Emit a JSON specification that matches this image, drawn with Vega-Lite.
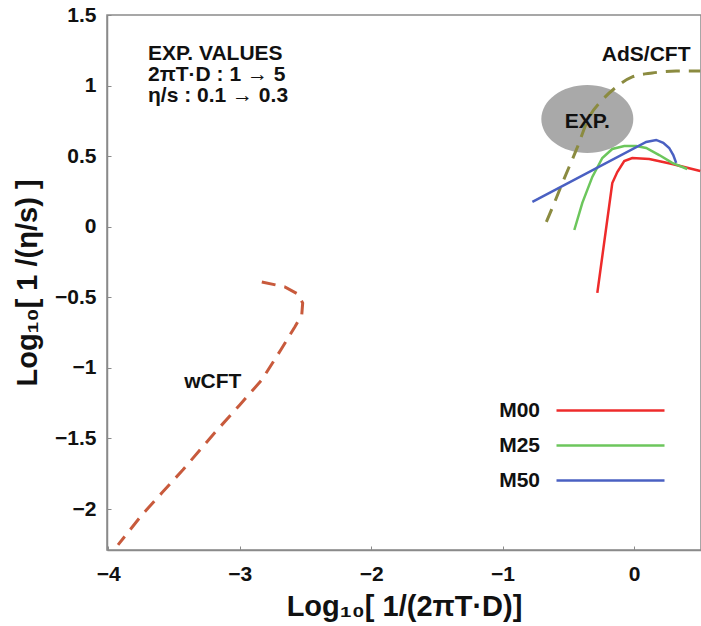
{
  "$schema": "https://vega.github.io/schema/vega-lite/v6.json",
  "width": 594,
  "height": 535,
  "autosize": {"type": "none"},
  "padding": {"left": 107, "top": 15, "right": 0, "bottom": 76},
  "background": "white",
  "config": {
    "font": "Liberation Sans",
    "view": {"stroke": "#8a8a8a", "strokeWidth": 1.5},
    "axis": {
      "domainColor": "#8a8a8a",
      "domainWidth": 1.5,
      "tickColor": "#8a8a8a",
      "tickSize": -4,
      "grid": false,
      "labelFont": "Liberation Sans",
      "labelFontSize": 21,
      "labelFontWeight": "bold",
      "labelColor": "#111111",
      "titleFont": "Liberation Sans",
      "titleFontSize": 29,
      "titleFontWeight": "bold",
      "titleColor": "#111111"
    }
  },
  "datasets": {
    "exp": [{"x": -0.355, "y": 0.763}],
    "ads": [
      {"x": -0.667, "y": 0.034}, {"x": -0.606, "y": 0.169}, {"x": -0.545, "y": 0.31},
      {"x": -0.439, "y": 0.544}, {"x": -0.34, "y": 0.778}, {"x": -0.241, "y": 0.898},
      {"x": -0.134, "y": 0.99}, {"x": -0.013, "y": 1.061}, {"x": 0.139, "y": 1.089},
      {"x": 0.321, "y": 1.103}, {"x": 0.504, "y": 1.103}
    ],
    "wcft": [
      {"x": -2.832, "y": -0.391}, {"x": -2.657, "y": -0.426}, {"x": -2.559, "y": -0.476},
      {"x": -2.521, "y": -0.54}, {"x": -2.528, "y": -0.625}, {"x": -2.581, "y": -0.71},
      {"x": -2.688, "y": -0.873}, {"x": -2.832, "y": -1.085}, {"x": -3.0, "y": -1.262},
      {"x": -3.205, "y": -1.475}, {"x": -3.432, "y": -1.722}, {"x": -3.592, "y": -1.885},
      {"x": -3.744, "y": -2.041}, {"x": -3.926, "y": -2.254}
    ],
    "models": [
      {"series": "M00", "order": 1, "x": -0.279, "y": -0.469},
      {"series": "M00", "order": 2, "x": -0.165, "y": 0.31},
      {"series": "M00", "order": 3, "x": -0.127, "y": 0.388},
      {"series": "M00", "order": 4, "x": -0.074, "y": 0.466},
      {"series": "M00", "order": 5, "x": -0.013, "y": 0.487},
      {"series": "M00", "order": 6, "x": 0.116, "y": 0.48},
      {"series": "M00", "order": 7, "x": 0.291, "y": 0.445},
      {"series": "M00", "order": 8, "x": 0.504, "y": 0.395},
      {"series": "M25", "order": 1, "x": -0.454, "y": -0.023},
      {"series": "M25", "order": 2, "x": -0.393, "y": 0.169},
      {"series": "M25", "order": 3, "x": -0.317, "y": 0.353},
      {"series": "M25", "order": 4, "x": -0.241, "y": 0.487},
      {"series": "M25", "order": 5, "x": -0.165, "y": 0.551},
      {"series": "M25", "order": 6, "x": -0.074, "y": 0.572},
      {"series": "M25", "order": 7, "x": 0.017, "y": 0.572},
      {"series": "M25", "order": 8, "x": 0.093, "y": 0.558},
      {"series": "M25", "order": 9, "x": 0.192, "y": 0.508},
      {"series": "M25", "order": 10, "x": 0.291, "y": 0.452},
      {"series": "M25", "order": 11, "x": 0.405, "y": 0.409},
      {"series": "M50", "order": 1, "x": -0.773, "y": 0.176},
      {"series": "M50", "order": 2, "x": 0.093, "y": 0.601},
      {"series": "M50", "order": 3, "x": 0.169, "y": 0.615},
      {"series": "M50", "order": 4, "x": 0.223, "y": 0.594},
      {"series": "M50", "order": 5, "x": 0.268, "y": 0.558},
      {"series": "M50", "order": 6, "x": 0.299, "y": 0.508},
      {"series": "M50", "order": 7, "x": 0.321, "y": 0.452}
    ],
    "labels": [
      {"label": "EXP.", "x": -0.355, "y": 0.742},
      {"label": "AdS/CFT", "x": 0.093, "y": 1.217},
      {"label": "wCFT", "x": -3.205, "y": -1.099}
    ],
    "notes": [
      {"label": "EXP. VALUES", "x": -3.698, "y": 1.224},
      {"label": "2πT·D : 1 → 5", "x": -3.698, "y": 1.072},
      {"label": "η/s : 0.1 → 0.3", "x": -3.698, "y": 0.923}
    ]
  },
  "encoding": {
    "x": {
      "field": "x", "type": "quantitative",
      "scale": {"domain": [-4.01, 0.51], "nice": false, "zero": false},
      "axis": {"title": "Log₁₀[ 1/(2πT·D)]", "values": [-4, -3, -2, -1, 0], "format": "~g", "labelPadding": 17, "titlePadding": 8}
    },
    "y": {
      "field": "y", "type": "quantitative",
      "scale": {"domain": [-2.29, 1.5], "nice": false, "zero": false},
      "axis": {"title": "Log₁₀[ 1 /(η/s) ]", "values": [-2, -1.5, -1, -0.5, 0, 0.5, 1, 1.5], "format": "~g", "labelPadding": 15, "titlePadding": 12}
    }
  },
  "layer": [
    {
      "data": {"name": "exp"},
      "mark": {"type": "point", "shape": "M-1,0A1,0.74,0,1,1,1,0A1,0.74,0,1,1,-1,0Z", "size": 8464, "filled": true, "fill": "#a9a9a9", "stroke": null, "opacity": 1, "clip": true}
    },
    {
      "data": {"name": "ads"},
      "mark": {"type": "line", "color": "#8b8b40", "strokeWidth": 3, "strokeDash": [14, 9], "clip": true, "interpolate": "monotone"}
    },
    {
      "data": {"name": "wcft"},
      "mark": {"type": "line", "color": "#c85a3c", "strokeWidth": 3, "strokeDash": [14, 9], "clip": true},
      "encoding": {"order": {"value": null}}
    },
    {
      "data": {"name": "models"},
      "mark": {"type": "line", "strokeWidth": 2.5, "clip": true},
      "encoding": {
        "order": {"field": "order", "type": "quantitative"},
        "color": {
          "field": "series", "type": "nominal",
          "scale": {"domain": ["M00", "M25", "M50"], "range": ["#ee2b2b", "#6cc65c", "#4a60c2"]},
          "legend": {
            "title": null, "orient": "none", "legendX": 493, "legendY": 385,
            "symbolType": "M-6,0H6", "symbolSize": 324, "symbolStrokeWidth": 2.5,
            "labelAlign": "right", "labelOffset": -81, "labelFontSize": 21,
            "labelFontWeight": "bold", "labelColor": "#111111", "rowPadding": 13, "padding": 0
          }
        }
      }
    },
    {
      "data": {"name": "labels"},
      "mark": {"type": "text", "fontSize": 21, "fontWeight": "bold", "color": "#111111", "align": "center", "baseline": "middle"},
      "encoding": {"text": {"field": "label"}}
    },
    {
      "data": {"name": "notes"},
      "mark": {"type": "text", "fontSize": 21, "fontWeight": "bold", "color": "#111111", "align": "left", "baseline": "middle"},
      "encoding": {"text": {"field": "label"}}
    }
  ]
}
